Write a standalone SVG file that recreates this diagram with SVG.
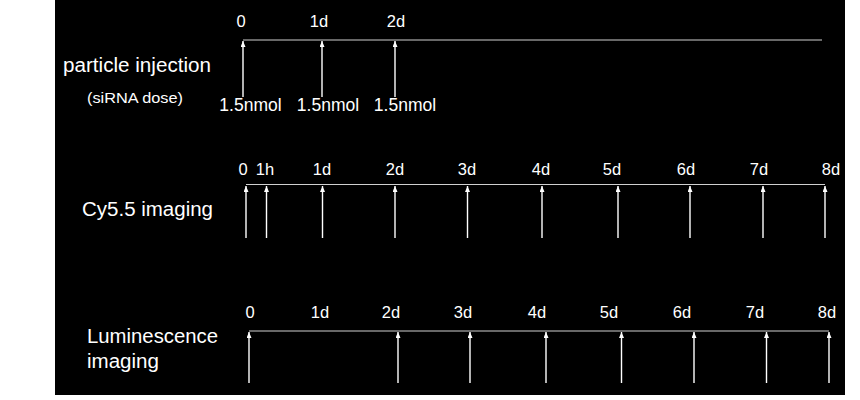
<svg xmlns="http://www.w3.org/2000/svg" width="860" height="400" viewBox="0 0 860 400">
<defs>
<style>
.t{font-family:"Liberation Sans",Arial,sans-serif;fill:#fff}
.lab{font-size:19.5px}
.tick{font-size:16.5px;text-anchor:middle}
.dose{font-size:17.5px;text-anchor:middle}
.axis{stroke:#d0d0d0;stroke-width:1.2;fill:none}
.arr{stroke:#fff;stroke-width:1.4;fill:none;marker-end:url(#ah)}
</style>
<marker id="ah" markerUnits="userSpaceOnUse" markerWidth="7" markerHeight="6" refX="6" refY="2.5" orient="auto">
<path d="M0,0 L6,2.5 L0,5 z" fill="#fff"/>
</marker>
</defs>
<rect x="55" y="0" width="790" height="395" fill="#000"/>

<g id="row-injection">
<text class="t lab" x="63" y="72" textLength="148" lengthAdjust="spacingAndGlyphs">particle injection</text>
<text class="t" x="87" y="103" font-size="15" textLength="96" lengthAdjust="spacingAndGlyphs">(siRNA dose)</text>
<text class="t tick" x="241" y="27">0</text>
<text class="t tick" x="319" y="27">1d</text>
<text class="t tick" x="396" y="27">2d</text>
<text class="t dose" x="250.5" y="111">1.5nmol</text>
<text class="t dose" x="328" y="111">1.5nmol</text>
<text class="t dose" x="405" y="111">1.5nmol</text>
</g>

<g id="row-cy55">
<text class="t lab" x="82" y="216" textLength="131" lengthAdjust="spacingAndGlyphs">Cy5.5 imaging</text>
<text class="t tick" x="243" y="175">0</text>
<text class="t tick" x="265" y="175">1h</text>
<text class="t tick" x="322" y="175">1d</text>
<text class="t tick" x="395" y="175">2d</text>
<text class="t tick" x="467" y="175">3d</text>
<text class="t tick" x="541" y="175">4d</text>
<text class="t tick" x="612" y="175">5d</text>
<text class="t tick" x="686" y="175">6d</text>
<text class="t tick" x="759" y="175">7d</text>
<text class="t tick" x="831" y="175">8d</text>
</g>

<g id="row-luminescence">
<text class="t lab" x="87" y="343" textLength="131" lengthAdjust="spacingAndGlyphs">Luminescence</text>
<text class="t lab" x="87" y="368" textLength="72" lengthAdjust="spacingAndGlyphs">imaging</text>
<text class="t tick" x="250" y="318">0</text>
<text class="t tick" x="320" y="318">1d</text>
<text class="t tick" x="391" y="318">2d</text>
<text class="t tick" x="463" y="318">3d</text>
<text class="t tick" x="537" y="318">4d</text>
<text class="t tick" x="609" y="318">5d</text>
<text class="t tick" x="682" y="318">6d</text>
<text class="t tick" x="755" y="318">7d</text>
<text class="t tick" x="827" y="318">8d</text>
</g>

<g id="connectors">
<line class="axis" x1="243" y1="40" x2="822" y2="40"/>
<line class="arr" x1="243" y1="97" x2="243" y2="41"/>
<line class="arr" x1="322" y1="97" x2="322" y2="41"/>
<line class="arr" x1="395" y1="97" x2="395" y2="41"/>

<line class="axis" x1="246" y1="184.5" x2="825" y2="184.5"/>
<line class="arr" x1="246" y1="238" x2="246" y2="186"/>
<line class="arr" x1="266.5" y1="238" x2="266.5" y2="186"/>
<line class="arr" x1="322.5" y1="238" x2="322.5" y2="186"/>
<line class="arr" x1="395" y1="238" x2="395" y2="186"/>
<line class="arr" x1="467.5" y1="238" x2="467.5" y2="186"/>
<line class="arr" x1="542" y1="238" x2="542" y2="186"/>
<line class="arr" x1="618" y1="238" x2="618" y2="186"/>
<line class="arr" x1="690" y1="238" x2="690" y2="186"/>
<line class="arr" x1="763" y1="238" x2="763" y2="186"/>
<line class="arr" x1="825" y1="238" x2="825" y2="186"/>

<line class="axis" x1="249" y1="331" x2="829" y2="331"/>
<line class="arr" x1="249" y1="383" x2="249" y2="332"/>
<line class="arr" x1="398" y1="383" x2="398" y2="332"/>
<line class="arr" x1="470" y1="383" x2="470" y2="332"/>
<line class="arr" x1="546" y1="383" x2="546" y2="332"/>
<line class="arr" x1="621.5" y1="383" x2="621.5" y2="332"/>
<line class="arr" x1="694" y1="383" x2="694" y2="332"/>
<line class="arr" x1="766.5" y1="383" x2="766.5" y2="332"/>
<line class="arr" x1="829" y1="383" x2="829" y2="332"/>
</g>
</svg>
